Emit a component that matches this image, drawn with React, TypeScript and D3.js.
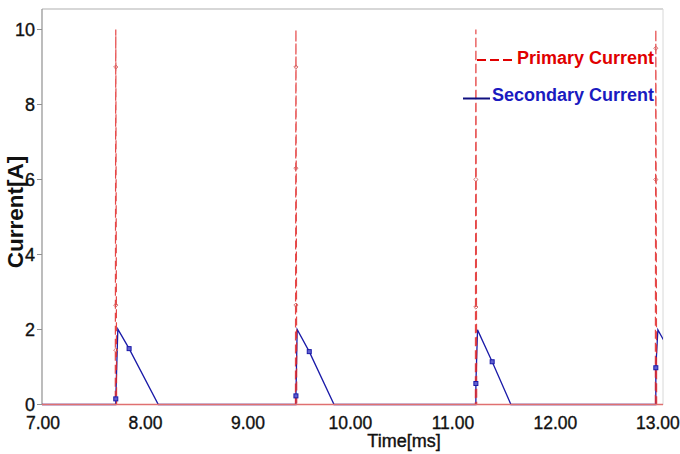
import React from "react";
import * as d3 from "d3";

// ---- data ----
const xTicks = [7, 8, 9, 10, 11, 12, 13];
const yTicks = [0, 2, 4, 6, 8, 10];

// Primary current (dashed red): pulses to 10 A
const primaryTime = [7.0, 7.715, 7.72, 7.728, 9.473, 9.478, 9.486, 11.229, 11.234, 11.242, 12.985, 12.99, 12.998, 13.1];
const primaryValue = [0, 0, 10, 0, 0, 10, 0, 0, 10, 0, 0, 10, 0, 0];
const primaryMarkTime = [7.72, 7.72, 7.72, 9.478, 9.478, 9.478, 11.234, 11.234, 12.99, 12.99];
const primaryMarkValue = [9.0, 2.65, 1.45, 9.0, 6.3, 2.65, 6.0, 2.6, 9.5, 6.0];

// Secondary current (solid blue)
const secondaryTime = [7.0, 7.72, 7.72, 7.74, 7.85, 8.135, 9.478, 9.478, 9.49, 9.608, 9.85, 11.234, 11.234, 11.25, 11.393, 11.576, 12.99, 12.99, 13.01, 13.1];
const secondaryValue = [0, 0, 0.15, 2.01, 1.49, 0, 0, 0.23, 2.0, 1.41, 0, 0, 0.56, 1.99, 1.14, 0, 0, 0.98, 1.99, 1.55];
const secondaryMarkTime = [7.72, 7.85, 9.478, 9.608, 11.234, 11.393, 12.99];
const secondaryMarkValue = [0.15, 1.49, 0.23, 1.41, 0.56, 1.14, 0.98];

const seriesNames = ["Primary Current", "Secondary Current"];

const RED = "#e02626";
const BLUE = "#1a1aa8";

export default function App() {
  const left = 42, right = 663, top = 9, bottom = 405;
  const x = d3.scaleLinear().domain([7, 13.06]).range([left, right]);
  const y = d3.scaleLinear().domain([0, 10]).range([404.5, 29.5]);
  const line = d3.line<[number, number]>().x(d => x(d[0])).y(d => y(d[1]));
  const prim: [number, number][] = primaryTime.map((t, i) => [t, primaryValue[i]]);
  const sec: [number, number][] = secondaryTime.map((t, i) => [t, secondaryValue[i]]);
  const font = "'Liberation Sans', Arial, sans-serif";

  return (
    <svg width={680} height={454} style={{ position: "absolute", left: 0, top: 0, background: "#fff" }}>
      <defs>
        <clipPath id="plot">
          <rect x={left} y={top} width={right - left} height={bottom - top + 1} />
        </clipPath>
      </defs>
      <rect x={0} y={0} width={680} height={454} fill="#fff" />
      {/* frame */}
      <line x1={left} x2={right} y1={top} y2={top} stroke="#b0b0b0" strokeWidth={1.2} />
      <line x1={right} x2={right} y1={top} y2={bottom} stroke="#d8d8d8" strokeWidth={1} />
      <line x1={left} x2={left} y1={top} y2={bottom} stroke="#909090" strokeWidth={1.2} />

      {/* y ticks */}
      {yTicks.map(v => (
        <g key={v}>
          <line x1={left - 5} x2={left} y1={y(v)} y2={y(v)} stroke="#909090" />
          <text x={35} y={y(v)} dy="0.36em" textAnchor="end" fontFamily={font} fontSize={18} fill="#111" stroke="#111" strokeWidth={0.35}>{v}</text>
        </g>
      ))}
      {/* x ticks */}
      {xTicks.map(v => (
        <text key={v} x={x(v) + 1} y={429} textAnchor="middle" fontFamily={font} fontSize={17.5} fill="#111" stroke="#111" strokeWidth={0.35}>{v.toFixed(2)}</text>
      ))}

      <g clipPath="url(#plot)">
        <path d={line(sec) || ""} fill="none" stroke={BLUE} strokeWidth={1.3} />
        <path d={line(prim) || ""} fill="none" stroke={RED} strokeWidth={1.2} strokeDasharray="9,4" opacity={0.85} />
        {primaryMarkTime.map((t, i) => (
          <rect key={"p" + i} x={x(t) - 1.5} y={y(primaryMarkValue[i]) - 1.5} width={3} height={3} fill="none" stroke="#d06060" strokeWidth={0.8} transform={`rotate(45 ${x(t)} ${y(primaryMarkValue[i])})`} />
        ))}
        {secondaryMarkTime.map((t, i) => (
          <rect key={"s" + i} x={x(t) - 2} y={y(secondaryMarkValue[i]) - 2} width={4} height={4} fill="#6060d0" stroke={BLUE} strokeWidth={1} />
        ))}
      </g>
      {/* baseline */}
      <line x1={left} x2={right} y1={bottom - 0.5} y2={bottom - 0.5} stroke="#e07070" strokeWidth={1.6} />

      {/* legend */}
      <line x1={477} x2={515} y1={60} y2={60} stroke="#e00000" strokeWidth={2} strokeDasharray="9,4" />
      <text x={517} y={64} fontFamily={font} fontSize={18} fontWeight="bold" fill="#e00000">{seriesNames[0]}</text>
      <line x1={463} x2={490} y1={98.5} y2={98.5} stroke="#101080" strokeWidth={2} />
      <text x={492} y={101} fontFamily={font} fontSize={18} fontWeight="bold" fill="#1a1ac0">{seriesNames[1]}</text>

      {/* axis titles */}
      <text x={404} y={447} textAnchor="middle" fontFamily={font} fontSize={18} fill="#111" stroke="#111" strokeWidth={0.4}>Time[ms]</text>
      <text transform="translate(23,212) rotate(-90)" textAnchor="middle" fontFamily={font} fontSize={22.5} fontWeight="bold" fill="#111">Current[A]</text>
    </svg>
  );
}
